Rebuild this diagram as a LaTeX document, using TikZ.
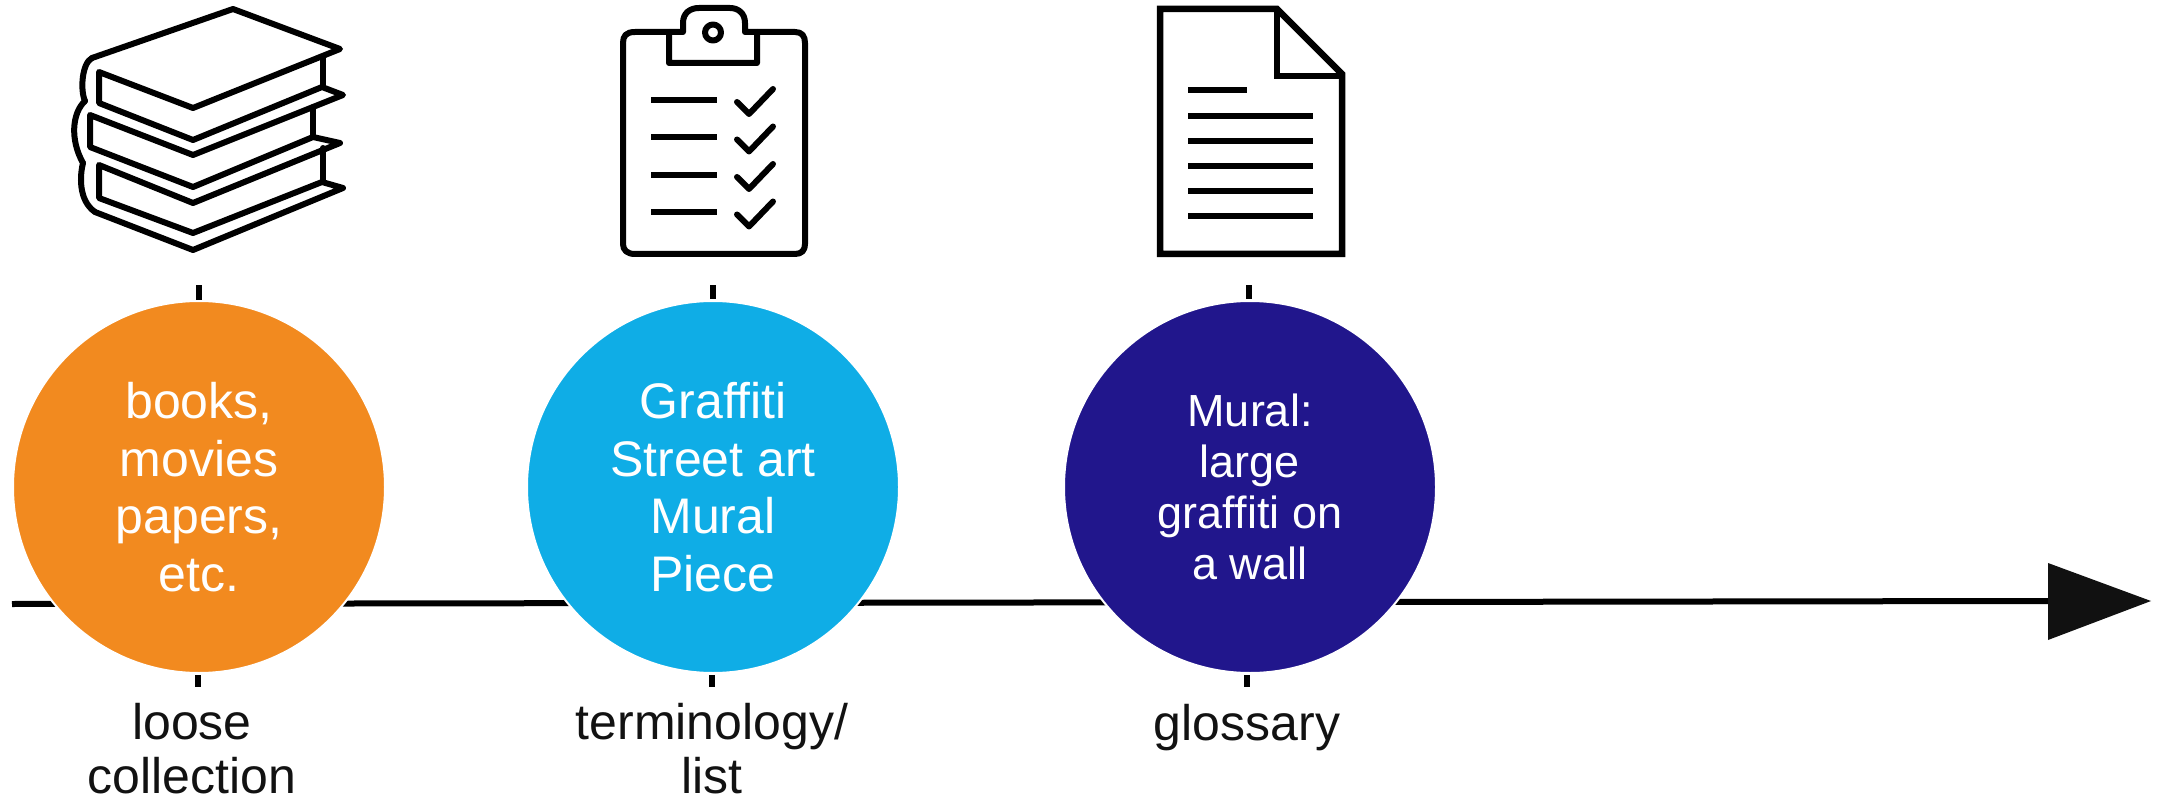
\documentclass[tikz,border=0pt]{standalone}
\usepackage{fontspec}
\setmainfont{Liberation Sans}
\definecolor{corange}{HTML}{F28A1F}
\definecolor{cblue}{HTML}{0FADE6}
\definecolor{cnavy}{HTML}{21168C}
\definecolor{chead}{HTML}{111111}
\tikzset{
  icon/.style={draw=black,line width=6pt,line join=round,line cap=round,fill=none},
  iconb/.style={draw=black,line width=6.5pt,line join=miter,line cap=butt,fill=none},
  listline/.style={draw=black,line width=6pt,line cap=butt},
  tickmark/.style={draw=black,line width=6pt},
  disc/.style={circle,minimum size=372pt,inner sep=0pt,text=white,align=center,draw=white,line width=2pt,font=\fontsize{50}{57.5}\selectfont},
  discs/.style={circle,minimum size=372pt,inner sep=0pt,text=white,align=center,draw=white,line width=2pt,font=\fontsize{45}{51}\selectfont},
  capt/.style={text=black!93,align=center,font=\fontsize{50}{54.5}\selectfont,inner sep=0pt},
}
\begin{document}
\begin{tikzpicture}[x=1pt,y=-1pt]
\useasboundingbox (0,0) rectangle (2169,805);
% timeline
\coordinate (start) at (12,604);
\coordinate (end) at (2050,601);
\draw[line width=6pt] (start) -- (end);
\fill[chead] (2048,563) -- (2151,601) -- (2048,640) -- cycle;
% ticks
\coordinate (t1a) at (199,285); \coordinate (t1b) at (199,300);
\coordinate (t2a) at (713,285); \coordinate (t2b) at (713,299);
\coordinate (t3a) at (1249,285); \coordinate (t3b) at (1249,299);
\coordinate (b1a) at (198,675); \coordinate (b1b) at (198,687);
\coordinate (b2a) at (712,675); \coordinate (b2b) at (712,687);
\coordinate (b3a) at (1247,675); \coordinate (b3b) at (1247,687);
\foreach \p/\q in {t1a/t1b,t2a/t2b,t3a/t3b,b1a/b1b,b2a/b2b,b3a/b3b}{\draw[tickmark] (\p) -- (\q);}
% circles
\node[disc,fill=corange] (c1) at (199,487) {books,\\movies\\papers,\\etc.};
\node[disc,fill=cblue] (c2) at (713,487) {Graffiti\\Street art\\Mural\\Piece};
\node[discs,fill=cnavy] (c3) at (1250,487) {Mural:\\large\\graffiti on\\a wall};
% captions
\node[capt,anchor=north] (l1) at (192,703) {loose\\collection};
\node[capt,anchor=north] (l2) at (712,703) {terminology/\\list};
\node[capt,anchor=north] (l3) at (1247,704) {glossary};
% books icon
\begin{scope}[icon]
\draw (92,58) -- (233,9) -- (340,49) -- (193,108) -- (99,72) -- (99,103) -- (193,140) -- (322,87) -- (343,95) -- (193,155) -- (90,115) -- (90,147) -- (193,187) -- (313,137) -- (340,143) -- (193,203) -- (99,165) -- (99,198) -- (193,233) -- (322,182) -- (343,188) -- (193,250) -- (95,212);
\draw (323,57) -- (323,87);
\draw (313,107) -- (313,137);
\draw (323,148) -- (323,182);
\draw (92,58) .. controls (82,63) and (80,90) .. (85,101);
\draw (85,101) .. controls (72,113) and (70,140) .. (83,163);
\draw (83,163) .. controls (80,175) and (78,200) .. (95,212);
\end{scope}
% clipboard icon
\begin{scope}[icon]
\draw (669,32) -- (635,32) .. controls (626,32) and (623,36) .. (623,43) -- (623,244) .. controls (623,250) and (627,254) .. (635,254) -- (795,254) .. controls (802,254) and (805,250) .. (805,244) -- (805,43) .. controls (805,36) and (802,32) .. (795,32) -- (757,32);
\draw (669,32) -- (669,63) -- (757,63) -- (757,32) -- (745,32) -- (745,23) .. controls (745,13) and (738,8) .. (730,8) -- (699,8) .. controls (690,8) and (683,13) .. (683,23) -- (683,32) -- cycle;
\draw (713,32.5) circle (8);
\end{scope}
\foreach \y in {100,137.5,175,212.5}{
  \draw[listline] (651,\y) -- (717,\y);
  \draw[icon] (737,\y+2) -- (749,\y+14) -- (773,\y-11);
}
% document icon
\draw[iconb] (1277,9) -- (1160,9) -- (1160,254) -- (1342,254) -- (1342,74) -- cycle;
\draw[iconb] (1277,9) -- (1277,76) -- (1342,76);
\draw[listline] (1188,90.5) -- (1247,90.5);
\foreach \y in {116,141,166,191,216}{\draw[listline] (1188,\y) -- (1313,\y);}
\end{tikzpicture}
\end{document}
